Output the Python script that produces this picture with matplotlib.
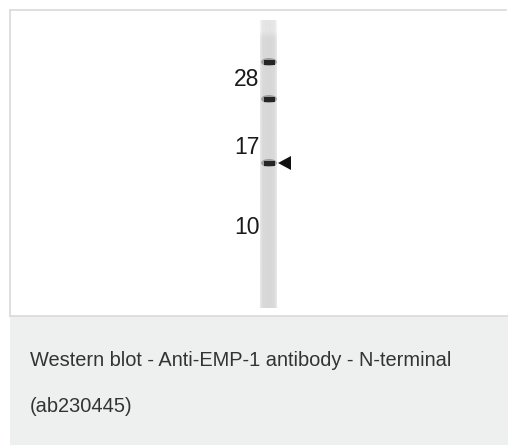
import matplotlib
matplotlib.use('Agg')
import matplotlib.pyplot as plt
import numpy as np
from matplotlib.patches import Rectangle, Ellipse, Polygon

# molecular weight ladder (kDa) and their vertical positions in the blot
mw_labels = ['28', '17', '10']
mw_y = [79, 148, 228]

# detected bands (vertical positions) and their relative darkness
band_y = [62, 99, 163]
band_strength = [0.95, 0.95, 0.95]
target_band = 2  # band pointed at by the arrow

caption_lines = ['Western blot - Anti-EMP-1 antibody - N-terminal', '(ab230445)']

W, H = 508, 445
fig = plt.figure(figsize=(W / 100, H / 100), dpi=100)
ax = fig.add_axes([0, 0, 1, 1])
ax.set_xlim(0, W)
ax.set_ylim(H, 0)
ax.axis('off')
fig.patch.set_facecolor('white')

# card with border + grey caption panel
ax.add_patch(Rectangle((10, 316), W - 10, H - 316, facecolor='#eef0ef', edgecolor='none', zorder=1))
ax.plot([9.5, 9.5], [10, 316], color='#dcdcdc', lw=1.3, zorder=2)
ax.plot([9.5, W - 2], [10, 10], color='#dcdcdc', lw=1.3, zorder=2)
ax.plot([9.5, W], [316, 316], color='#dcdcdc', lw=1.3, zorder=2)

# lane: light grey strip
profile = np.array([0.90, 0.86, 0.85, 0.85, 0.84, 0.85, 0.84, 0.85, 0.85, 0.86, 0.90])
lane = np.tile(profile, (40, 1))
lane[:2] = np.minimum(lane[:2] + 0.05, 1.0)
ax.imshow(lane, cmap='gray', vmin=0, vmax=1, extent=[260, 277, 308, 20],
          aspect='auto', interpolation='bilinear', zorder=3)

for y, s in zip(band_y, band_strength):
    ax.add_patch(Ellipse((269, y), 16, 8, facecolor=(0.35, 0.35, 0.35), edgecolor='none', alpha=0.45, zorder=4))
    ax.add_patch(Rectangle((263.5, y - 2.5), 11, 5, facecolor=(0.12, 0.12, 0.12), edgecolor='none', alpha=s, zorder=5))

# arrow at target band
ty = band_y[target_band]
ax.add_patch(Polygon([[278, ty], [291, ty - 7], [291, ty + 7]], closed=True,
                     facecolor='#111111', edgecolor='none', zorder=5))

for lab, y in zip(mw_labels, mw_y):
    ax.text(247, y, lab, ha='center', va='center', fontsize=16.5,
            family=['Liberation Sans', 'DejaVu Sans'], color='#1a1a1a', zorder=6)

ax.text(30, 360, caption_lines[0], ha='left', va='center', fontsize=14.4,
        family=['Liberation Sans', 'DejaVu Sans'], color='#333333', zorder=6)
ax.text(30, 406, caption_lines[1], ha='left', va='center', fontsize=14.4,
        family=['Liberation Sans', 'DejaVu Sans'], color='#333333', zorder=6)

fig.savefig('out.png', dpi=100)
